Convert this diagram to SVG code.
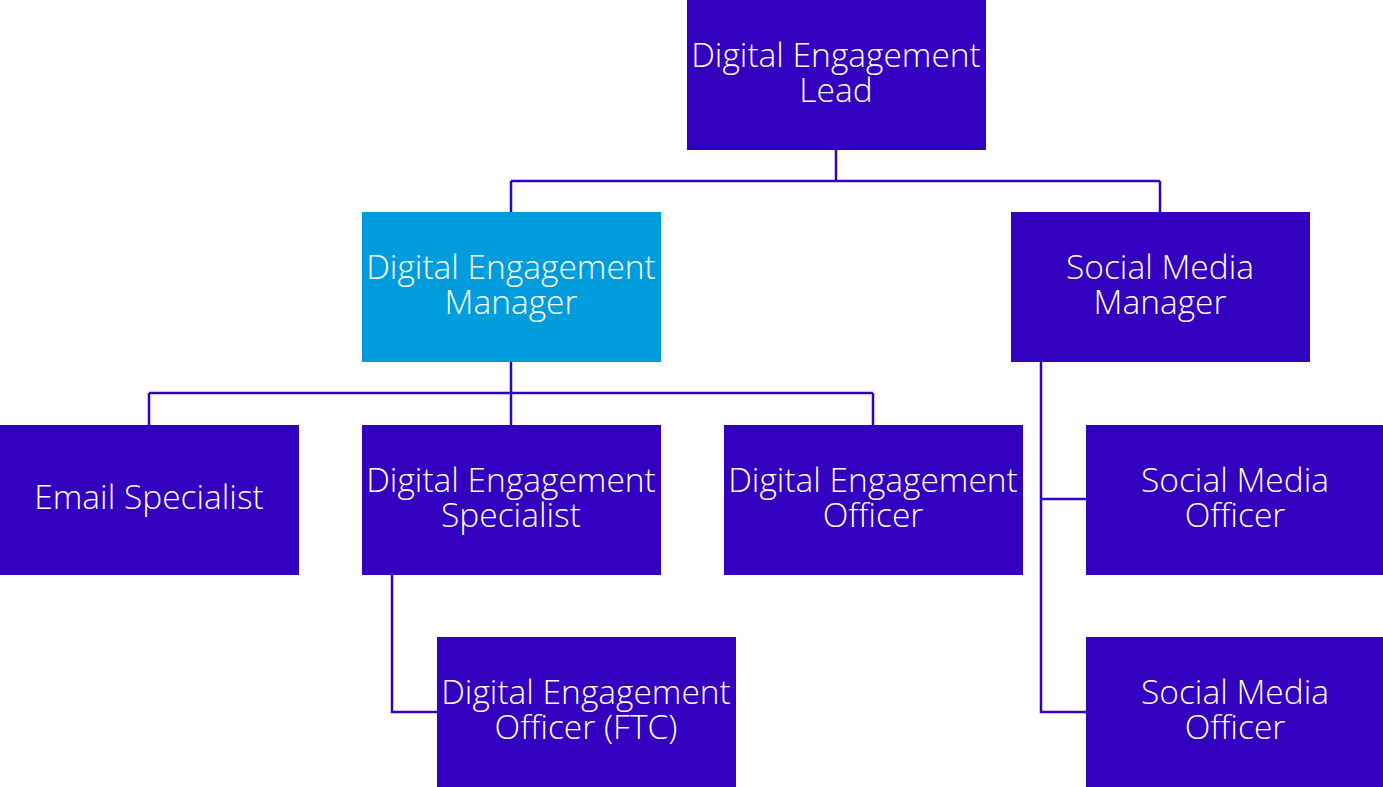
<svg xmlns="http://www.w3.org/2000/svg" width="1383" height="787" viewBox="0 0 1383 787">
  <style>
    .box { fill: #3300BF; }
    .box.hl { fill: #009CDD; }
    .lbl { font-family: "Open Sans", "Liberation Sans", sans-serif; font-size: 33.5px; font-weight: 300; fill: #FFFFFF; text-anchor: middle; }
    .wire { fill: none; stroke: #3300BB; stroke-width: 2.5; }
  </style>
  <rect width="1383" height="787" fill="#FFFFFF"/>
  <g id="connectors">
    <path class="wire" d="M836,150 V181 M511,181 H1160 M511,181 V212 M1160,181 V212"/>
    <path class="wire" d="M511,362 V425 M149,393 H873 M149,393 V425 M873,393 V425"/>
    <path class="wire" d="M1041,362 V712 H1086 M1041,499 H1086"/>
    <path class="wire" d="M392,575 V712 H437"/>
  </g>
  <g id="lead">
    <rect class="box" x="687" y="0" width="299" height="150"/>
    <text class="lbl" x="836" y="67">Digital Engagement<tspan x="836" dy="35">Lead</tspan></text>
  </g>
  <g id="de-manager">
    <rect class="box hl" x="362" y="212" width="299" height="150"/>
    <text class="lbl" x="511" y="279">Digital Engagement<tspan x="511" dy="35">Manager</tspan></text>
  </g>
  <g id="sm-manager">
    <rect class="box" x="1011" y="212" width="299" height="150"/>
    <text class="lbl" x="1160" y="279">Social Media<tspan x="1160" dy="35">Manager</tspan></text>
  </g>
  <g id="email-specialist">
    <rect class="box" x="0" y="425" width="299" height="150"/>
    <text class="lbl" x="149" y="509">Email Specialist</text>
  </g>
  <g id="de-specialist">
    <rect class="box" x="362" y="425" width="299" height="150"/>
    <text class="lbl" x="511" y="492">Digital Engagement<tspan x="511" dy="35">Specialist</tspan></text>
  </g>
  <g id="de-officer">
    <rect class="box" x="724" y="425" width="299" height="150"/>
    <text class="lbl" x="873" y="492">Digital Engagement<tspan x="873" dy="35">Officer</tspan></text>
  </g>
  <g id="sm-officer-1">
    <rect class="box" x="1086" y="425" width="297" height="150"/>
    <text class="lbl" x="1235" y="492">Social Media<tspan x="1235" dy="35">Officer</tspan></text>
  </g>
  <g id="de-officer-ftc">
    <rect class="box" x="437" y="637" width="299" height="150"/>
    <text class="lbl" x="586" y="704">Digital Engagement<tspan x="586" dy="35">Officer (FTC)</tspan></text>
  </g>
  <g id="sm-officer-2">
    <rect class="box" x="1086" y="637" width="297" height="150"/>
    <text class="lbl" x="1235" y="704">Social Media<tspan x="1235" dy="35">Officer</tspan></text>
  </g>
</svg>
